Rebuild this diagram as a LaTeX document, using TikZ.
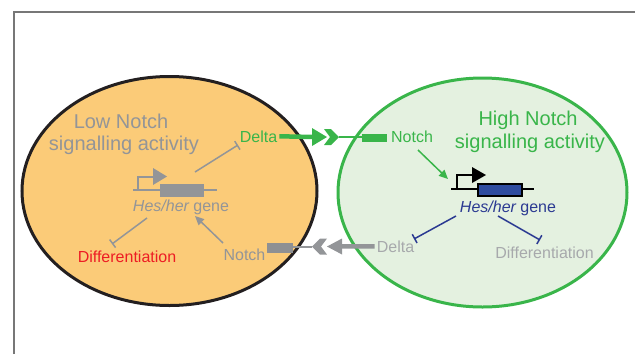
\documentclass[tikz,border=0pt]{standalone}
\usepackage{fontspec}
\setmainfont{Liberation Sans}
\usetikzlibrary{shapes.geometric,arrows.meta}
\definecolor{cellorange}{HTML}{FBCB78}
\definecolor{cellblack}{HTML}{231F20}
\definecolor{palegreen}{HTML}{E4F1E0}
\definecolor{notchgreen}{HTML}{39B54A}
\definecolor{txtgray}{HTML}{939598}
\definecolor{ltgray}{HTML}{A7A9AC}
\definecolor{recgray}{HTML}{8E9093}
\definecolor{geneblue}{HTML}{2E4C9F}
\definecolor{lineblue}{HTML}{2B3A92}
\definecolor{diffred}{HTML}{ED1C24}
\definecolor{framegray}{HTML}{777777}
\begin{document}
\begin{tikzpicture}[x=1pt,y=-1pt,
  lbl/.style={inner sep=0pt, anchor=base, font=\fontsize{16}{19}\selectfont},
  ttl/.style={inner sep=0pt, anchor=base, font=\fontsize{20}{24}\selectfont},
  inh/.style={line width=1.5pt, -{Bar[width=10pt,line width=1.5pt]}},
  act/.style={line width=1.5pt, -{Triangle[length=9pt,width=8pt]}},
  cell/.style={ellipse, line width=3pt, inner sep=0pt},
  rec/.style={inner sep=0pt, outer sep=0pt},
]
\useasboundingbox (0,0) rectangle (635,354);
% frame
\draw[framegray, line width=1.5pt] (14,354) -- (14,12) -- (635,12);
% cells
\node (lowcell) [cell, draw=cellblack, fill=cellorange, minimum width=295pt, minimum height=229pt] at (169.5,191) {};
\node (highcell) [cell, draw=notchgreen, fill=palegreen, minimum width=289pt, minimum height=229pt] at (482.5,192.5) {};
% titles
\node (lowt1) [ttl, text=txtgray] at (121,128) {Low Notch};
\node (lowt2) [ttl, text=txtgray] at (124,150) {signalling activity};
\node (hight1) [ttl, text=notchgreen] at (528,125) {High Notch};
\node (hight2) [ttl, text=notchgreen] at (530,148) {signalling activity};
% labels
\node (deltaL) [lbl, text=notchgreen] at (258.5,142) {Delta};
\node (notchL) [lbl, text=txtgray] at (244.5,260) {Notch};
\node (diffL) [lbl, text=diffred] at (127,262) {Differentiation};
\node (geneL) [lbl, text=txtgray] at (181,211) {{\itshape Hes/her} gene};
\node (notchR) [lbl, text=notchgreen] at (412,142) {Notch};
\node (geneR) [lbl, text=lineblue] at (508,212) {{\itshape Hes/her} gene};
\node (deltaR) [lbl, text=ltgray] at (395.5,252) {Delta};
\node (diffR) [lbl, text=ltgray] at (544.5,258) {Differentiation};
% left gene
\draw[txtgray, line width=2pt] (133,190) -- (217,190);
\node (boxL) [rec, fill=txtgray, minimum width=44pt, minimum height=13pt] at (182,190.5) {};
\draw[txtgray, line width=2pt] (138,190) -- (138,177) -- (154,177);
\fill[txtgray] (153,168) -- (167,176.5) -- (153,185) -- cycle;
% right gene
\draw[black, line width=2pt] (451,189) -- (534,189);
\node (boxR) [rec, fill=geneblue, draw=black, line width=1.5pt, minimum width=44pt, minimum height=12pt] at (500,190) {};
\draw[black, line width=2pt] (457,189) -- (457,175) -- (473,175);
\fill[black] (472,167) -- (486,175) -- (472,183) -- cycle;
% left internal connectors
\coordinate (gLd0) at (195,172); \coordinate (gLd1) at (238,145);
\coordinate (gLf0) at (147,218); \coordinate (gLf1) at (112,244);
\coordinate (nL0) at (223,243);  \coordinate (nL1) at (195,216);
\draw[inh, txtgray] (gLd0) -- (gLd1);
\draw[inh, txtgray] (gLf0) -- (gLf1);
\draw[act, txtgray] (nL0) -- (nL1);
% right internal connectors
\coordinate (nR0) at (418,150); \coordinate (nR1) at (448,179);
\coordinate (gRd0) at (456,216); \coordinate (gRd1) at (414,239);
\coordinate (gRf0) at (498,216); \coordinate (gRf1) at (540,240);
\draw[act, notchgreen] (nR0) -- (nR1);
\draw[inh, lineblue] (gRd0) -- (gRd1);
\draw[inh, lineblue] (gRf0) -- (gRf1);
% green Delta -> Notch signal
\node (recR) [rec, fill=notchgreen, minimum width=25pt, minimum height=8pt] at (374.5,138) {};
\coordinate (gTail) at (313,137);
\coordinate (gChev) at (339,137);
\draw[notchgreen, line width=4.5pt] (deltaL.east) ++(2,0) -- (gTail);
\fill[notchgreen] (312,128) -- (327,137) -- (312,146) -- cycle;
\fill[notchgreen] (324,129) -- (331,129) -- (339,137) -- (331,145) -- (324,145) -- (330,137) -- cycle;
\draw[notchgreen, line width=2pt] (gChev) -- (recR.west |- gChev);
% gray Delta -> Notch signal
\node (recL) [rec, fill=recgray, minimum width=26pt, minimum height=10pt] at (280,248) {};
\coordinate (yTail) at (341,246.5);
\coordinate (yChev) at (312,246.5);
\draw[txtgray, line width=4.5pt] (deltaR.west) ++(-2,0) -- (yTail);
\fill[txtgray] (342,238.5) -- (327,246.5) -- (342,254.5) -- cycle;
\fill[txtgray] (327,238.5) -- (320,238.5) -- (312,246.5) -- (320,254.5) -- (327,254.5) -- (321,246.5) -- cycle;
\draw[txtgray, line width=2pt] (yChev) -- (recL.east |- yChev);
\end{tikzpicture}
\end{document}
